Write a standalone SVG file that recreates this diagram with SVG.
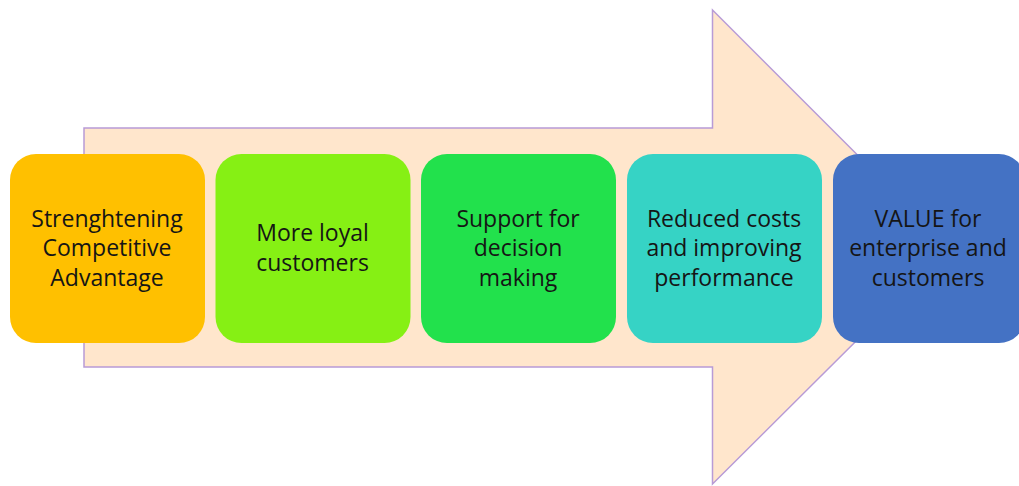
<svg xmlns="http://www.w3.org/2000/svg" width="1019" height="486" viewBox="0 0 1019 486">
  <style>
    .box { stroke: none; }
    .label { font-family: "Open Sans", "Liberation Sans", sans-serif; font-size: 23px; fill: #151515; text-anchor: middle; }
  </style>
  <rect x="0" y="0" width="1019" height="486" fill="#ffffff"/>

  <!-- large block arrow behind the steps -->
  <g id="flow-arrow">
    <polygon points="84,128 712.5,128 712.5,10 950,247.5 712.5,484 712.5,367 84,367"
             fill="#FFE6CC" stroke="#B89BD6" stroke-width="1.5" stroke-linejoin="miter"/>
  </g>

  <g id="connectors"></g>

  <g id="step-1">
    <rect class="box" x="10" y="154" width="195" height="189" rx="26" fill="#FFC000"/>
    <text class="label" x="107" y="226.5">Strenghtening</text>
    <text class="label" x="107" y="256">Competitive</text>
    <text class="label" x="107" y="285.5">Advantage</text>
  </g>

  <g id="step-2">
    <rect class="box" x="215.5" y="154" width="195" height="189" rx="26" fill="#86F014"/>
    <text class="label" x="312.5" y="241">More loyal</text>
    <text class="label" x="312.5" y="270.5">customers</text>
  </g>

  <g id="step-3">
    <rect class="box" x="421" y="154" width="195" height="189" rx="26" fill="#22E14C"/>
    <text class="label" x="518" y="226.5">Support for</text>
    <text class="label" x="518" y="256">decision</text>
    <text class="label" x="518" y="285.5">making</text>
  </g>

  <g id="step-4">
    <rect class="box" x="627" y="154" width="195" height="189" rx="26" fill="#36D3C5"/>
    <text class="label" x="724" y="226.5">Reduced costs</text>
    <text class="label" x="724" y="256">and improving</text>
    <text class="label" x="724" y="285.5">performance</text>
  </g>

  <g id="step-5">
    <rect class="box" x="833" y="154" width="192" height="189" rx="26" fill="#4472C4"/>
    <text class="label" x="928" y="226.5">VALUE for</text>
    <text class="label" x="928" y="256">enterprise and</text>
    <text class="label" x="928" y="285.5">customers</text>
  </g>
</svg>
